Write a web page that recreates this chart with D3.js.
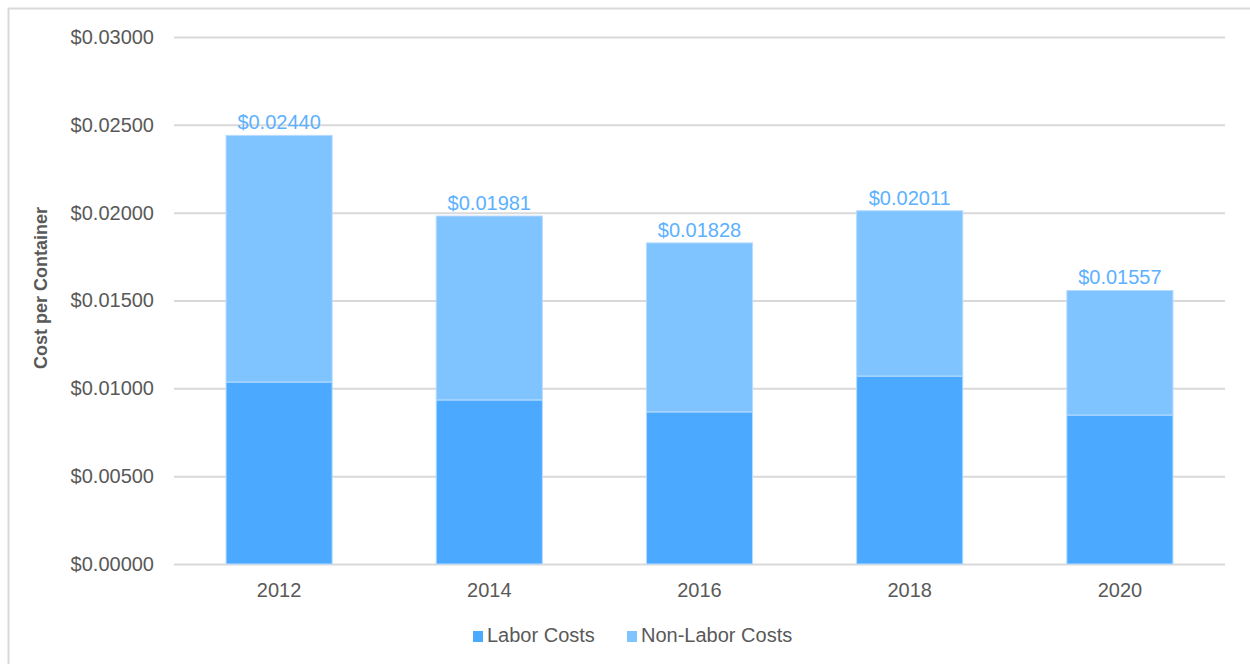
<!DOCTYPE html>
<html>
<head>
<meta charset="utf-8">
<script src="https://cdn.jsdelivr.net/npm/d3@7"></script>
<style>
	body { margin: 0; background: #ffffff; }
	svg { display: block; }
</style>
</head>
<body>
<div id="chart"></div>
<script>
var years = ["2012", "2014", "2016", "2018", "2020"];
var laborCosts = [0.01036, 0.00934, 0.00866, 0.01070, 0.00848];
var totalCosts = [0.02440, 0.01981, 0.01828, 0.02011, 0.01557];
var yTicks = [0, 0.005, 0.01, 0.015, 0.02, 0.025, 0.03];
var seriesNames = ["Labor Costs", "Non-Labor Costs"];
var seriesColors = ["#4BA9FF", "#7FC3FF"];

var W = 1250, H = 664;
var margin = {top: 37, right: 25, bottom: 100, left: 174},
	width = W - margin.left - margin.right,
	height = H - margin.top - margin.bottom;
var font = "Liberation Sans, Arial, sans-serif";

var svg = d3.select("#chart").append("svg")
	.attr("width", W)
	.attr("height", H);

// outer frame
svg.append("rect")
	.attr("x", 8.5).attr("y", 8.5)
	.attr("width", W + 10).attr("height", H + 10)
	.attr("fill", "none")
	.attr("stroke", "#d9d9d9")
	.attr("stroke-width", 2);

var g = svg.append("g")
	.attr("transform", "translate(" + margin.left + "," + margin.top + ")");

var x = d3.scaleBand()
	.domain(years)
	.range([0, width])
	.paddingInner(0.495)
	.paddingOuter(0.2475);

var y = d3.scaleLinear()
	.domain([0, 0.03])
	.range([height, 0]);

// gridlines
g.append("g")
	.call(d3.axisLeft(y).tickValues(yTicks).tickSize(-width).tickFormat(""))
	.call(s => s.select(".domain").remove())
	.selectAll("line")
		.attr("stroke", "#d9d9d9")
		.attr("stroke-width", 2);

// y tick labels
g.append("g")
	.call(d3.axisLeft(y).tickValues(yTicks).tickSize(0).tickPadding(20)
		.tickFormat(d => "$" + d.toFixed(5)))
	.call(s => s.select(".domain").remove())
	.selectAll("text")
		.attr("font-family", font)
		.attr("font-size", "20px")
		.attr("fill", "#595959");

// x tick labels
g.append("g")
	.attr("transform", "translate(0," + height + ")")
	.call(d3.axisBottom(x).tickSize(0).tickPadding(19))
	.call(s => s.select(".domain").remove())
	.selectAll("text")
		.attr("font-family", font)
		.attr("font-size", "20px")
		.attr("fill", "#595959");

// stacked bars
var rows = years.map(function(yr, i) {
	return {year: yr, labor: laborCosts[i], nonLabor: totalCosts[i] - laborCosts[i], total: totalCosts[i]};
});
var layers = d3.stack().keys(["labor", "nonLabor"])(rows);

g.selectAll(".layer")
	.data(layers)
	.enter().append("g")
		.attr("class", "layer")
		.attr("fill", (d, i) => seriesColors[i])
	.selectAll("rect")
	.data(d => d)
	.enter().append("rect")
		.attr("x", d => x(d.data.year))
		.attr("y", d => y(d[1]))
		.attr("width", x.bandwidth())
		.attr("height", d => y(d[0]) - y(d[1]))
		.attr("stroke", "#b8dcff")
		.attr("stroke-width", 1);

// value labels
g.selectAll(".valLabel")
	.data(rows)
	.enter().append("text")
		.attr("class", "valLabel")
		.attr("x", d => x(d.year) + x.bandwidth() / 2)
		.attr("y", d => y(d.total) - 6)
		.attr("text-anchor", "middle")
		.attr("font-family", font)
		.attr("font-size", "20px")
		.attr("fill", "#5CB1FF")
		.text(d => "$" + d.total.toFixed(5));

// axis title
svg.append("text")
	.attr("transform", "translate(47,288) rotate(-90)")
	.attr("text-anchor", "middle")
	.attr("font-family", font)
	.attr("font-size", "18px")
	.attr("font-weight", "bold")
	.attr("fill", "#595959")
	.text("Cost per Container");

// legend
var legendX = [473, 627];
var legend = svg.append("g");
seriesNames.forEach(function(name, i) {
	legend.append("rect")
		.attr("x", legendX[i]).attr("y", 631)
		.attr("width", 10).attr("height", 11)
		.attr("fill", seriesColors[i]);
	legend.append("text")
		.attr("x", legendX[i] + 14).attr("y", 642)
		.attr("font-family", font)
		.attr("font-size", "20px")
		.attr("fill", "#595959")
		.text(name);
});
</script>
</body>
</html>
